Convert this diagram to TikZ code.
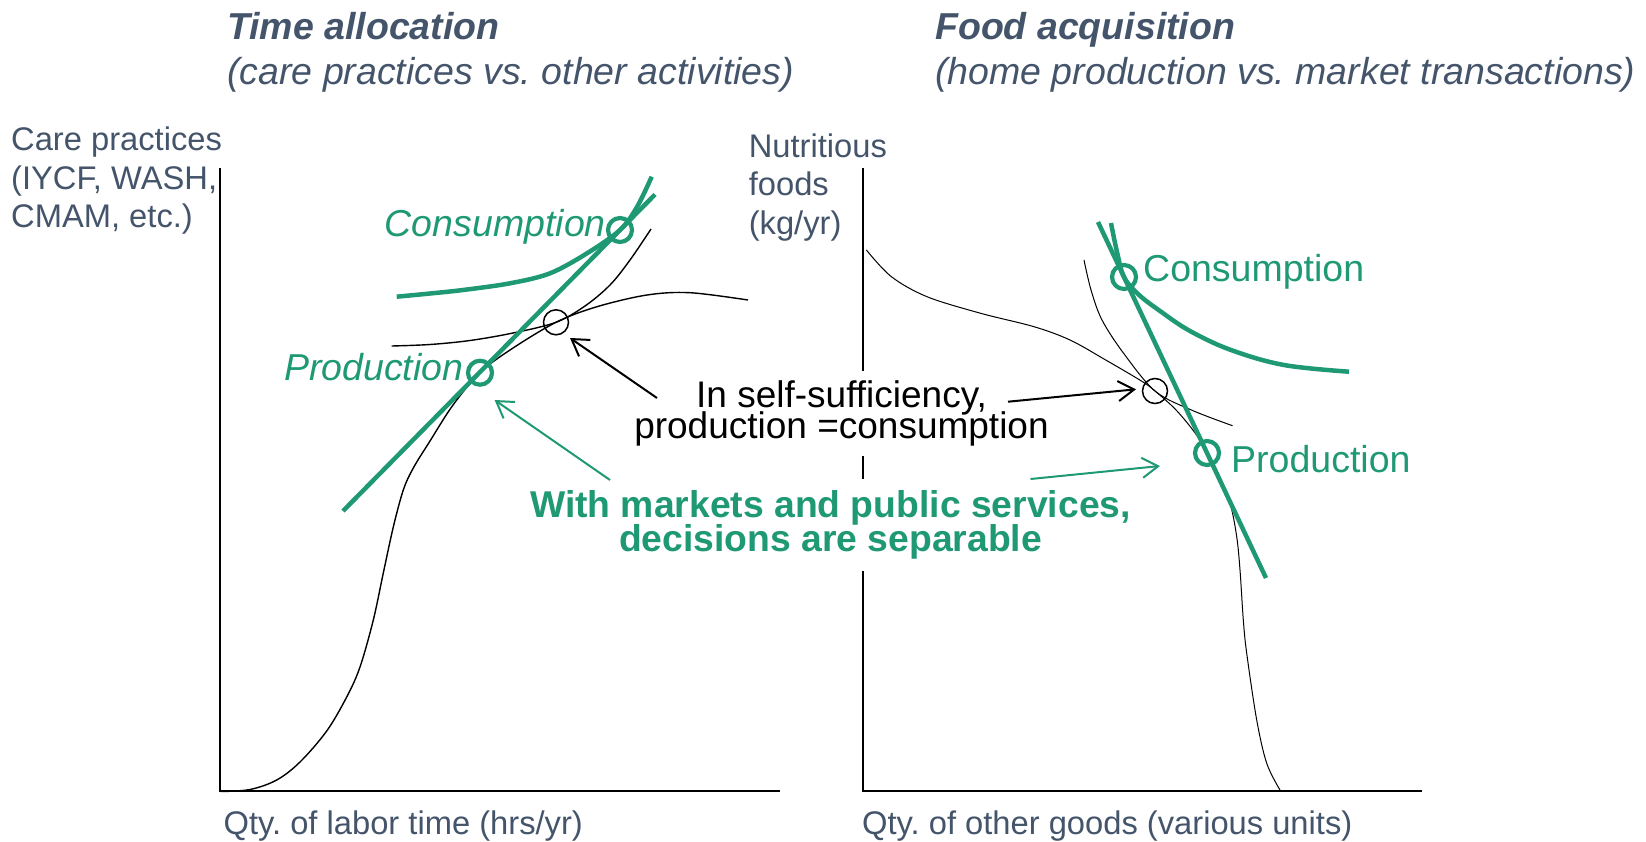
\documentclass[tikz,border=0pt]{standalone}
\usepackage{fontspec}
\setmainfont{Liberation Sans}
\usetikzlibrary{arrows.meta,calc}
\definecolor{slate}{HTML}{44546A}
\definecolor{tgreen}{RGB}{31,153,116}
\newcommand\tightls{\lineskiplimit-100pt\relax}
\frenchspacing
\begin{document}
\begin{tikzpicture}[x=1pt,y=-1pt,
  axis/.style={line width=1.8pt,line join=miter},
  curveL/.style={line width=1.4pt},
  curveR/.style={line width=1pt},
  gthick/.style={draw=tgreen,line width=4.5pt},
  gring/.style={circle,draw=tgreen,line width=4.2pt,minimum size=24pt,inner sep=0pt},
  bring/.style={circle,draw=black,line width=1.5pt,minimum size=25pt,inner sep=0pt},
  lbl/.style={inner sep=0pt,text=slate,font=\fontsize{32.7}{38.5}\selectfont\frenchspacing,align=left},
  ttl/.style={inner sep=0pt,text=slate,font=\fontsize{37.5}{44}\selectfont\bfseries\itshape\frenchspacing},
  subttl/.style={inner sep=0pt,text=slate,font=\fontsize{37.5}{44}\selectfont\itshape\frenchspacing},
  glab/.style={inner sep=0pt,text=tgreen},
  arr/.style={line width=2pt,-{Straight Barb[length=16pt,width=20pt]}},
  garr/.style={draw=tgreen,line width=2pt,-{Straight Barb[length=16pt,width=20pt]}},
]
\useasboundingbox (0,0) rectangle (1646,841);

% titles
\node[ttl,anchor=base west] (t1) at (227,39) {Time allocation};
\node[subttl,anchor=base west] (s1) at (227,84) {(care practices vs. other activities)};
\node[ttl,anchor=base west] (t2) at (935,39) {Food acquisition};
\node[subttl,anchor=base west] (s2) at (935,84) {(home production vs. market transactions)};

% axis labels
\node[lbl,anchor=north west] (yl1) at (11,127) {Care practices\\(IYCF, WASH,\\CMAM, etc.)};
\node[lbl,anchor=north west] (yl2) at (748.6,133.5) {Nutritious\\foods\\(kg/yr)};
\node[lbl,anchor=base west] (xl1) at (223.5,834) {Qty. of labor time (hrs/yr)};
\node[lbl,anchor=base west] (xl2) at (862,834) {Qty. of other goods (various units)};

% axes
\coordinate (ytopL) at (220,168);
\coordinate (oL) at (220,791);
\coordinate (xendL) at (780,791);
\coordinate (ytopR) at (863,168);
\coordinate (oR) at (863,791);
\coordinate (xendR) at (1422,791);
\draw[axis] (ytopL) -- (oL) -- (xendL);
\draw[axis] (ytopR) -- (oR) -- (xendR);

% ---------- left panel ----------
\draw[curveL] plot[smooth,tension=0.55] coordinates {(220.7,791.5) (250,789.5) (276.7,780) (300,762) (326.7,731) (346.7,697) (360,667) (373.3,620) (383.3,573) (393.3,527) (403.3,490) (413.3,468) (430,441) (453,405) (480,372.7) (510,350) (556,322.3) (597,306.7) (647,295) (690,292.7) (748,300)};
\draw[curveL] plot[smooth,tension=0.55] coordinates {(391.7,346) (430,344.5) (470,340.5) (513,333) (556,322.3) (585,306) (610,285) (630,260) (651,229)};
\draw[gthick] plot[smooth,tension=0.55] coordinates {(396.7,296.7) (430,293.5) (463,290) (510,283.3) (550,273.3) (587,253.3) (620,230) (637,207) (651.7,176.7)};
\coordinate (bl1) at (343,511);
\coordinate (bl2) at (655,194.5);
\draw[gthick] (bl1) -- (bl2);

\node[bring] (bcL) at (556,322.3) {};
\node[gring] (gcL) at (620,230) {};
\node[gring] (gpL) at (480,372.7) {};

\node[glab,anchor=base east,font=\fontsize{37.5}{44}\selectfont\itshape] (consL) at (606,236.7) {Consumption};
\node[glab,anchor=base east,font=\fontsize{37.5}{44}\selectfont\itshape] (prodL) at (463.5,380) {Production};

% ---------- right panel ----------
\draw[curveR] plot[smooth,tension=0.55] coordinates {(866.4,250) (891.4,276.7) (927,296.7) (980.7,313.3) (1034,326.7) (1070,340) (1105.7,360) (1141.4,381) (1155,391) (1177,411) (1198.6,438) (1216.7,470) (1230,503.3) (1236.7,536.7) (1240,570) (1243.3,620) (1246.7,653.3) (1256.7,720) (1266.7,763.3) (1280,790)};
\draw[curveR] plot[smooth,tension=0.55] coordinates {(1084,260) (1091,290) (1102,320) (1123.6,353.3) (1155,391) (1191.4,410) (1232.5,425.7)};
\draw[gthick] plot[smooth,tension=0.6] coordinates {(1111,223) (1117,252) (1124,277) (1138,294) (1160,311) (1190,331) (1231,350) (1284,365) (1349,371.7)};
\coordinate (br1) at (1098,222);
\coordinate (br2) at (1266,578);
\draw[gthick] (br1) -- (br2);

\node[bring] (bcR) at (1155,391) {};
\node[gring] (gcR) at (1124,277) {};
\node[gring] (gpR) at (1207,453) {};

\node[glab,anchor=base west,font=\fontsize{37.5}{44}\selectfont] (consR) at (1143,281.7) {Consumption};
\node[glab,anchor=base west,font=\fontsize{37.5}{44}\selectfont] (prodR) at (1231,472.7) {Production};

% ---------- central texts ----------
\node[fill=white,inner xsep=8pt,inner ysep=10pt,align=center,
      font=\fontsize{37}{30.6}\selectfont\tightls] (selfsuff) at (841.5,413.5)
      {In self-sufficiency,\\production =consumption};
\node[fill=white,text=tgreen,inner xsep=8pt,inner ysep=12pt,align=center,
      font=\fontsize{37.3}{34}\selectfont\bfseries\tightls] (separ) at (830.5,525)
      {With markets and public services,\\decisions are separable};

% ---------- arrows ----------
\coordinate (aL) at (657,398);
\coordinate (aR) at (1008,401.7);
\coordinate (gL) at (610,480);
\coordinate (gR) at (1030.5,479);
\draw[arr] (aL) -- ($(bcL)+(14,15.7)$);
\draw[arr] (aR) -- ($(bcR)+(-19,-1.7)$);
\draw[garr] (gL) -- ($(gpL)+(14.6,27.3)$);
\draw[garr] (gR) -- ($(gpR)+(-47,13)$);
\end{tikzpicture}
\end{document}
